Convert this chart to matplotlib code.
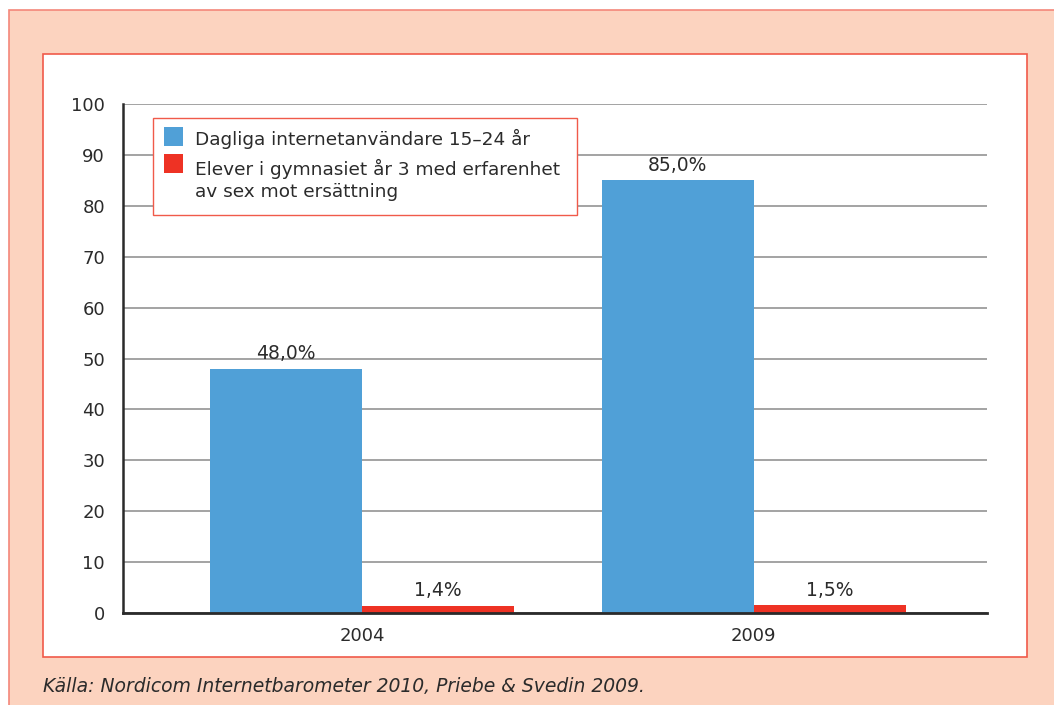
import matplotlib.pyplot as plt
import numpy as np
from matplotlib.patches import Rectangle

# Data
years = ["2004", "2009"]
internet_users = [48.0, 85.0]
sex_for_pay = [1.4, 1.5]
series_labels = [
    "Dagliga internetanvändare 15\u201324 år",
    "Elever i gymnasiet år 3 med erfarenhet\nav sex mot ersättning",
]
yticks = list(range(0, 101, 10))
source = "Källa: Nordicom Internetbarometer 2010, Priebe & Svedin 2009."

BLUE = "#50A0D7"
RED = "#EE3224"
SALMON = "#FCD3BF"
BORDER = "#F05A4A"
TEXT = "#2B2B2B"

plt.rcParams["font.family"] = ["DejaVu Sans"]

W, H = 1054, 705
fig = plt.figure(figsize=(W / 100, H / 100), dpi=100)


def fx(x):
    return x / W


def fy(y):
    return 1 - y / H


# outer salmon panel and inner white panel
fig.add_artist(Rectangle((fx(9), fy(720)), fx(1060), 710 / H, transform=fig.transFigure,
                         facecolor=SALMON, edgecolor="#F4877A", lw=1.2, zorder=0))
fig.add_artist(Rectangle((fx(43), fy(657)), fx(1027 - 43), (657 - 54) / H,
                         transform=fig.transFigure, facecolor="white",
                         edgecolor=BORDER, lw=1.2, zorder=0))

ax = fig.add_axes([fx(123), fy(613), fx(987 - 123), (613 - 104) / H])
ax.set_facecolor("none")

x = np.arange(len(years))
bw = 0.388
b1 = ax.bar(x - bw / 2, internet_users, bw, color=BLUE, zorder=3)
b2 = ax.bar(x + bw / 2, sex_for_pay, bw, color=RED, zorder=3)

for bars, vals in [(b1, internet_users), (b2, sex_for_pay)]:
    for bar, v in zip(bars, vals):
        ax.annotate(f"{v:.1f}".replace(".", ",") + "%",
                    (bar.get_x() + bar.get_width() / 2, v),
                    xytext=(0, 11), textcoords="offset points",
                    ha="center", va="center", fontsize=13.5, color=TEXT)

ax.set_xlim(-0.61, 1.595)
ax.set_ylim(0, 100)
ax.set_yticks(yticks)
ax.set_xticks(x)
ax.set_xticklabels(years)
ax.tick_params(axis="y", length=0, pad=13, labelsize=13, labelcolor=TEXT)
ax.tick_params(axis="x", length=0, pad=10, labelsize=13, labelcolor=TEXT)
ax.yaxis.grid(True, color="#8A8A8A", lw=1.1, zorder=1)
for s in ["top", "right"]:
    ax.spines[s].set_visible(False)
ax.spines["left"].set_color("#2A2A2A")
ax.spines["left"].set_linewidth(1.8)
ax.spines["bottom"].set_color("#2A2A2A")
ax.spines["bottom"].set_linewidth(2.0)
ax.spines["bottom"].set_zorder(4)

# legend drawn by hand so the red swatch sits on the first line of its label
fig.add_artist(Rectangle((fx(153), fy(215)), fx(577 - 153), (215 - 118) / H,
                         transform=fig.transFigure, facecolor="white",
                         edgecolor=BORDER, lw=1.0, zorder=5))
fig.add_artist(Rectangle((fx(164), fy(146)), fx(19), 19 / H, transform=fig.transFigure,
                         facecolor=BLUE, edgecolor="none", zorder=6))
fig.add_artist(Rectangle((fx(164), fy(173)), fx(19), 19 / H, transform=fig.transFigure,
                         facecolor=RED, edgecolor="none", zorder=6))
fig.text(fx(195), fy(139), series_labels[0], fontsize=13.3, color=TEXT,
         va="center", ha="left", zorder=7)
fig.text(fx(195), fy(180), series_labels[1], fontsize=13.3, color=TEXT,
         va="center", ha="left", linespacing=1.35, zorder=7)

fig.text(fx(43), fy(686), source, fontsize=13.5, style="italic", color=TEXT,
         va="center", ha="left")

fig.savefig("out.png", dpi=100)
